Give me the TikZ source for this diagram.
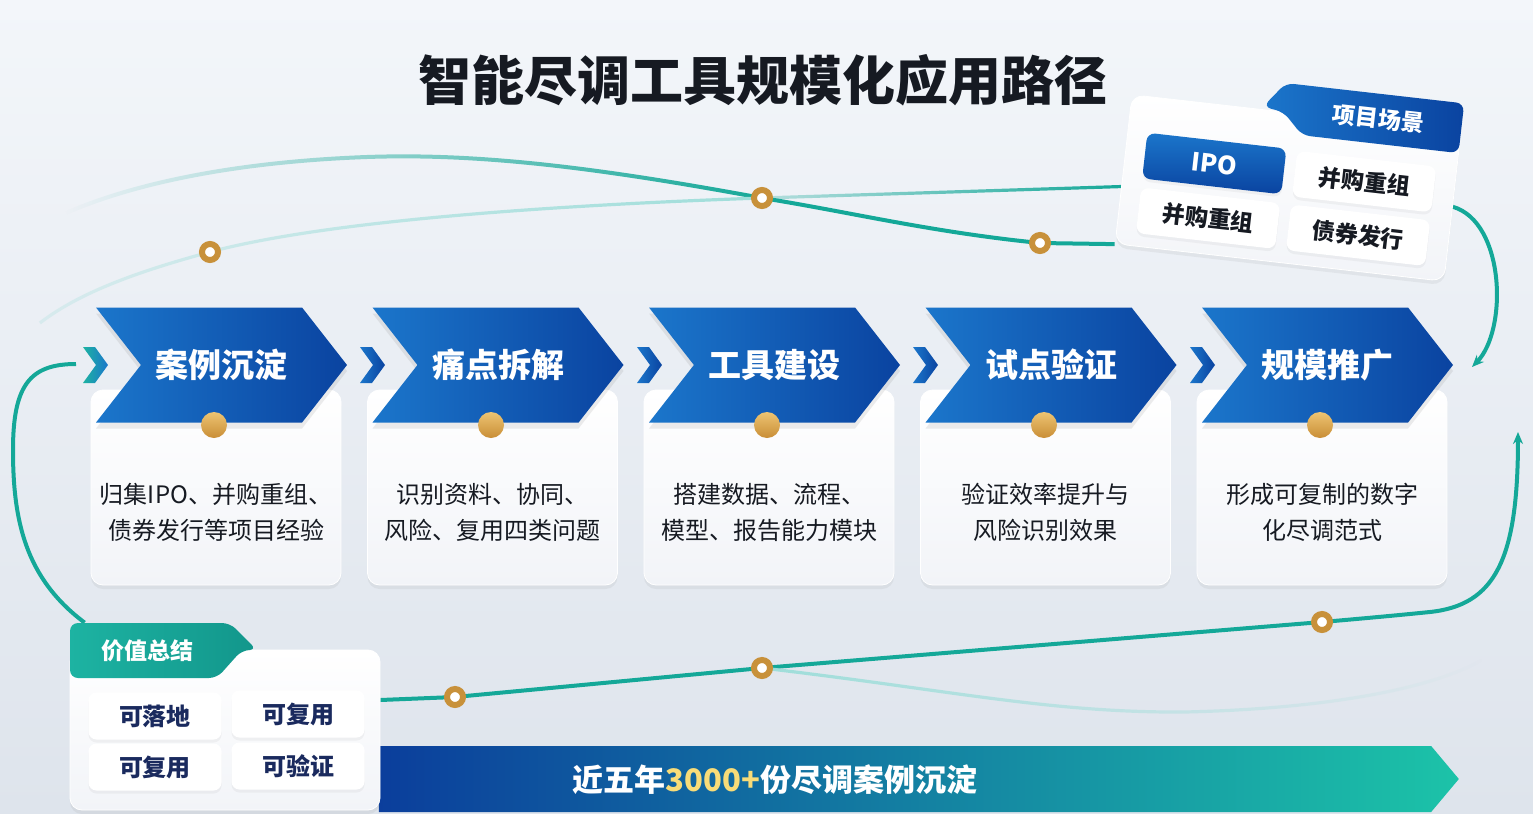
\documentclass[tikz,border=0pt]{standalone}
\usepackage{fontspec}
\setmainfont{Noto Sans CJK SC}
\usetikzlibrary{arrows.meta,positioning,calc,shapes.symbols,shadows,fadings,backgrounds}
\pgfdeclarelayer{lines}
\pgfsetlayers{background,lines,main}
\definecolor{ink}{HTML}{161A22}
\definecolor{bgtop}{HTML}{F3F6FA}
\definecolor{bgbot}{HTML}{DEE4EC}
\definecolor{chevA}{HTML}{1B76CB}
\definecolor{chevB}{HTML}{0A43A0}
\definecolor{teal}{HTML}{14A898}
\definecolor{paleteal}{HTML}{9FDEDA}
\definecolor{goldA}{HTML}{EDC472}
\definecolor{goldB}{HTML}{C98E36}
\definecolor{ringgold}{HTML}{C8913A}
\definecolor{navy}{HTML}{1A2A5E}
\definecolor{cardbot}{HTML}{F2F4F8}
\definecolor{tealA}{HTML}{1DB3A2}
\definecolor{tealB}{HTML}{12968B}
\definecolor{bandA}{HTML}{0B3E9C}
\definecolor{bandM}{HTML}{0F6FA8}
\definecolor{bandB}{HTML}{1CC3A8}
\definecolor{numyellow}{HTML}{F8DC78}
\tikzfading[name=fadeleft, left color=transparent!100, right color=transparent!0]
\tikzfading[name=fadesoft, left color=transparent!75, right color=transparent!0]
\tikzfading[name=faderight, left color=transparent!0, right color=transparent!100]

\begin{document}
\begin{tikzpicture}[x=0.5pt, y=-0.5pt,
    headline/.style={text=ink, font=\fontsize{26.5}{30}\selectfont\bfseries},
    stage/.style={shape=signal, signal from=west, signal to=east, signal pointer angle=104, minimum width=125.5pt, minimum height=57.5pt, inner sep=0pt, left color=chevA, right color=chevB, text=white, font=\fontsize{16.5}{18}\selectfont\bfseries, drop shadow={opacity=0.15, shadow xshift=0pt, shadow yshift=-3pt}},
    card/.style={rounded corners=6pt, top color=white, bottom color=cardbot, draw=white, minimum width=125pt, minimum height=97.5pt, drop shadow={opacity=0.10, shadow xshift=0pt, shadow yshift=-2pt}},
    cardtext/.style={align=center, text=ink, font=\fontsize{12}{18}\selectfont},
    dot/.style={circle, minimum size=13pt, inner sep=0pt, top color=goldA, bottom color=goldB},
    ring/.style={circle, minimum size=8pt, inner sep=0pt, draw=ringgold, line width=3pt, fill=white},
    gtblue/.style={left color=chevA, right color=chevB},
    gtteal/.style={left color=tealA, right color=chevA},
    tabblue/.style={rounded corners=4pt, left color=chevA, right color=chevB},
    tabteal/.style={rounded corners=4pt, left color=tealA, right color=tealB},
    tabtext/.style={text=white, font=\fontsize{11.5}{13}\selectfont\bfseries},
    chip/.style={rounded corners=4pt, fill=white, minimum width=70pt, minimum height=23pt, inner sep=0pt, text=ink, font=\fontsize{11.5}{13}\selectfont\bfseries, drop shadow={opacity=0.08, shadow xshift=0pt, shadow yshift=-1.5pt}},
    chipblue/.style={chip, top color=chevA, bottom color=chevB, text=white, font=\fontsize{12.5}{14}\selectfont\bfseries},
    vchip/.style={chip, minimum width=66.5pt, minimum height=23.5pt, text=navy, font=\fontsize{12}{14}\selectfont\bfseries},
    band/.style={shape=signal, signal to=east, signal pointer angle=100, minimum width=540pt, minimum height=33pt, inner sep=0pt, left color=bandA, middle color=bandM, right color=bandB},
    motto/.style={text=white, font=\fontsize{15.5}{18}\selectfont\bfseries},
    flow/.style={draw=teal, line width=2pt},
    faint/.style={draw=paleteal, line width=1.6pt},
    pointer/.style={-{Stealth[length=6pt,width=5pt]}}
]

\begin{pgfonlayer}{background}
\shade[top color=bgtop, bottom color=bgbot] (0,0) rectangle (1533,814);
\end{pgfonlayer}
\useasboundingbox (0,0) rectangle (1533,814);

\node[headline] (title) at (763,80) {智能尽调工具规模化应用路径};

% cards under the stages
\node[card] (case1) at (216,487.5) {};
\node[card] (pain1) at (492.5,487.5) {};
\node[card] (tool1) at (769,487.5) {};
\node[card] (pilot1) at (1045.5,487.5) {};
\node[card] (roll1) at (1322,487.5) {};

\node[cardtext] (case2) at (216,512) {归集IPO、并购重组、\\债券发行等项目经验};
\node[cardtext] (pain2) at (492.5,512) {识别资料、协同、\\风险、复用四类问题};
\node[cardtext] (tool2) at (769,512) {搭建数据、流程、\\模型、报告能力模块};
\node[cardtext] (pilot2) at (1045.5,512) {验证效率提升与\\风险识别效果};
\node[cardtext] (roll2) at (1322,512) {形成可复制的数字\\化尽调范式};

% stages
\node[stage] (case) at (221.5,365) {案例沉淀};
\node[stage] (pain) at (498,365) {痛点拆解};
\node[stage] (tool) at (774.5,365) {工具建设};
\node[stage] (pilot) at (1051,365) {试点验证};
\node[stage] (roll) at (1327.5,365) {规模推广};

\path[gtteal] (83,347) -- (95,347) -- (108,365) -- (95,383) -- (83,383) -- (96,365) -- cycle;
\path[gtblue] (360,347) -- (372,347) -- (385,365) -- (372,383) -- (360,383) -- (373,365) -- cycle;
\path[gtblue] (637,347) -- (649,347) -- (662,365) -- (649,383) -- (637,383) -- (650,365) -- cycle;
\path[gtblue] (913,347) -- (925,347) -- (938,365) -- (925,383) -- (913,383) -- (926,365) -- cycle;
\path[gtblue] (1190,347) -- (1202,347) -- (1215,365) -- (1202,383) -- (1190,383) -- (1203,365) -- cycle;

\node[dot] (d1) at (214,425) {};
\node[dot] (d2) at (491,425) {};
\node[dot] (d3) at (767,425) {};
\node[dot] (d4) at (1044,425) {};
\node[dot] (d5) at (1320,425) {};

% project scenes card
\begin{scope}[shift={(1288,188)}, rotate=-6.5, transform shape]
\node[card, minimum width=165.5pt, minimum height=75pt] (scene) at (0,0) {};
\path[tabblue] (-34,-78) -- (-14,-104) -- (165.5,-104) -- (165.5,-54) -- (8,-54) -- (-13,-75) -- cycle;
\node[tabtext] (scenehead) at (82,-79) {项目场景};
\node[chipblue] (ipo) at (-76,-16) {IPO};
\node[chip] (ma1) at (75,-15) {并购重组};
\node[chip] (ma2) at (-76,39) {并购重组};
\node[chip] (bond) at (75,39) {债券发行};
\end{scope}

% slogan band and value card
\node[band] (band) at (905,779) {};
\node[motto] (slogan) at (775,780) {近五年{\color{numyellow}3000+}份尽调案例沉淀};

\node[card, minimum width=155pt, minimum height=80pt] (vcard) at (225,730) {};
\path[tabteal] (70,623) -- (230,623) -- (257,650) -- (242,650) -- (217,678) -- (70,678) -- cycle;
\node[tabtext] (valuehead) at (147,651) {价值总结};
\node[vchip] (v1) at (155,716) {可落地};
\node[vchip] (v2) at (298,714) {可复用};
\node[vchip] (v3) at (155,767) {可复用};
\node[vchip] (v4) at (298,766) {可验证};

% rings on the tracks
\node[ring] (r1) at (210,252) {};
\node[ring] (r2) at (762,198) {};
\node[ring] (r3) at (1040,243) {};
\node[ring] (r4) at (455,697) {};
\node[ring] (r5) at (762,668) {};
\node[ring] (r6) at (1322,622) {};

\coordinate (ul) at (66,213);
\coordinate (ll) at (40,323);
\coordinate (rin) at (1472,367);
\coordinate (rup) at (1518,432);
\coordinate (rfade) at (1482,660);
\coordinate (lin) at (76,364);

\begin{pgfonlayer}{lines}
% top tracks
\draw[flow] (scene.south west) -- (r3.center) .. controls (930,232) and (850,212) .. (r2.center);
\draw[flow, path fading=fadeleft] (r2.center) .. controls (600,168) and (480,153) .. (367,157) .. controls (230,162) and (130,185) .. (ul);
\draw[flow, line width=1.6pt, path fading=fadesoft] (r2.center) -- (scene.186);
\draw[faint, path fading=fadesoft] (ll) .. controls (80,292) and (140,271) .. (r1.center) .. controls (330,220) and (560,205) .. (r2.center);

% right side
\draw[flow, pointer] (scene.east) .. controls (1505,222) and (1508,330) .. (rin);
\draw[flow, pointer] ($(vcard.east)+(0,-30)$) -- (r4.center) -- (r5.center) -- (r6.center) .. controls (1380,617) and (1410,614) .. (1430,612) .. controls (1495,605) and (1518,560) .. (rup);
\draw[faint, path fading=faderight] (r5.center) .. controls (950,690) and (1050,713) .. (1185,712) .. controls (1320,709) and (1430,690) .. (rfade);

% left loop
\draw[flow] ($(vcard.north west)+(15,-27)$) .. controls (25,578) and (13,520) .. (13,450) .. controls (13,385) and (30,364) .. (lin);
\end{pgfonlayer}

\end{tikzpicture}
\end{document}
